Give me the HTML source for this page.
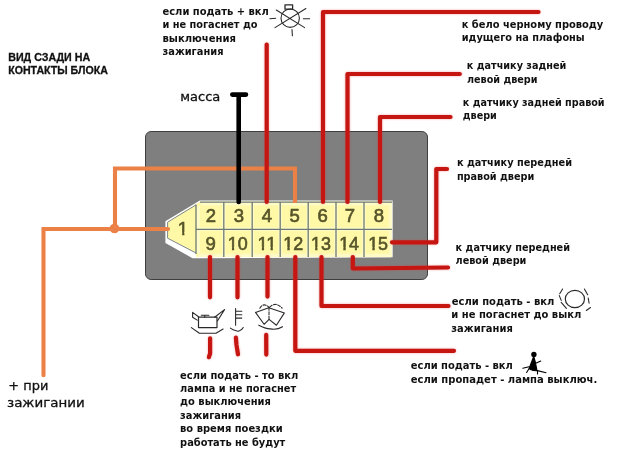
<!DOCTYPE html>
<html lang="ru">
<head>
<meta charset="utf-8">
<title>Вид сзади на контакты блока</title>
<style>
html,body{margin:0;padding:0;background:#fff;}
body{width:640px;height:454px;overflow:hidden;}
svg{display:block;}
.t{font-family:"DejaVu Sans Condensed","DejaVu Sans","Liberation Sans",sans-serif;font-weight:bold;font-size:11px;fill:#111;}
.h{font-family:"Liberation Sans","DejaVu Sans",sans-serif;font-weight:bold;font-size:11px;fill:#111;stroke:#111;stroke-width:0.3;}
.m{font-family:"DejaVu Sans","Liberation Sans",sans-serif;font-weight:normal;font-size:12.6px;fill:#111;stroke:#111;stroke-width:0.3;}
.n{font-family:"Liberation Sans","DejaVu Sans",sans-serif;font-size:18.5px;fill:#56542a;stroke:#56542a;stroke-width:0.65;text-anchor:middle;}
.r{stroke:#c61612;stroke-width:4.2;fill:none;stroke-linecap:round;stroke-linejoin:round;}
.o{stroke:#ec8147;stroke-width:4.1;fill:none;stroke-linecap:butt;stroke-linejoin:miter;}
.k{stroke:#000;stroke-width:4.6;fill:none;stroke-linecap:round;}
.i{stroke:#2a2a2a;stroke-width:1.1;fill:none;stroke-linecap:round;stroke-linejoin:round;}
</style>
</head>
<body>
<svg width="640" height="454" viewBox="0 0 640 454">
<rect width="640" height="454" fill="#fff"/>

<!-- connector body -->
<rect x="145.5" y="131.5" width="282" height="148" rx="5.6" ry="5.6" fill="#7f7f7f" stroke="#3e3e3e" stroke-width="1"/>

<!-- pin block -->
<path d="M165.4 221.3 L199.8 200.5 L392.6 200.5 L392.6 257.3 L204 258.2 L192.5 258.2 L165.4 242.9 Z" fill="#ffffff"/>
<path id="cells" d="M167 222.2 L200.3 201.6 L391.9 201.6 L391.9 256.9 L196 256.9 L196 253 L167 238.3 Z" fill="#fff8a6"/>
<path d="M223.8 203 V256 M252.2 203 V256 M280.2 203 V256 M308.2 203 V256 M336 203 V256 M364 203 V256 M197 229.3 H391 M198.2 206 V253 M201 203.6 H391 M390.6 203 V256 M198 255.6 H391" stroke="#fffef0" stroke-opacity="0.45" stroke-width="3.6" fill="none"/>
<g stroke="#6d7a74" stroke-width="1.3" fill="none">
<path d="M196 204.5 V254 M223.8 202 V257 M252.2 202 V257 M280.2 202 V257 M308.2 202 V257 M336 202 V257 M364 202 V257"/>
<path d="M196 229.3 H392 M200 202.1 H392"/>
<path d="M196 204.9 L167.6 222.2 L167.6 238.2 L196 253" stroke-width="1" stroke="#7b8790"/>
</g>
<g class="n" style="filter:saturate(1)">
<text x="183" y="235">1</text>
<text x="211" y="221.8">2</text>
<text x="238.8" y="221.8">3</text>
<text x="266.8" y="221.8">4</text>
<text x="294.6" y="221.8">5</text>
<text x="322.6" y="221.8">6</text>
<text x="350" y="221.8">7</text>
<text x="379" y="221.8">8</text>
<text x="210.6" y="250">9</text>
<text x="237.8" y="250" textLength="19.9" lengthAdjust="spacingAndGlyphs">10</text>
<text x="267" y="250" textLength="19.2" lengthAdjust="spacingAndGlyphs">11</text>
<text x="293.3" y="250" textLength="19.9" lengthAdjust="spacingAndGlyphs">12</text>
<text x="321.0" y="250" textLength="19.9" lengthAdjust="spacingAndGlyphs">13</text>
<text x="349.1" y="250" textLength="19.9" lengthAdjust="spacingAndGlyphs">14</text>
<text x="378.1" y="250" textLength="19.9" lengthAdjust="spacingAndGlyphs">15</text>
</g>

<path d="M177.32 232H182.12V236.5H177.32Z M184.40 232H188.00V236.5H184.40Z M227.13 247H231.93V251.5H227.13Z M234.15 247H237.75V251.5H234.15Z M257.01 247H261.81V251.5H257.01Z M264.10 247H267.70V251.5H264.10Z M265.70 247H270.50V251.5H265.70Z M272.85 247H276.45V251.5H272.85Z M282.51 247H287.31V251.5H282.51Z M289.76 247H293.36V251.5H289.76Z M310.36 247H315.16V251.5H310.36Z M317.46 247H321.06V251.5H317.46Z M338.51 247H343.31V251.5H338.51Z M345.76 247H349.36V251.5H345.76Z M367.51 247H372.31V251.5H367.51Z M374.76 247H378.36V251.5H374.76Z" fill="#fff8a6" class="ft"/>
<!-- orange wires -->
<path class="o" d="M295 203 V168.5 H115 V229"/>
<path class="o" d="M168 229 H43.5 V375.3" style="stroke-linecap:round"/>
<circle cx="114.5" cy="228.5" r="4.8" fill="#ec8147"/>

<!-- black ground wire -->
<path class="k" d="M238.7 202 V96 M232.3 94.6 H246"/>

<!-- red wires -->
<g style="filter:drop-shadow(0 0 0.9px rgba(230,60,60,0.45))">
<path class="r" d="M266.7 202 V44.6"/>
<path class="r" d="M323 202 V12 H538.5" />
<path class="r" d="M347.5 202 V74 H459.8"/>
<path class="r" d="M380 202 V117 H450.5"/>
<path class="r" d="M392 242.3 H436.3 V169 H447"/>
<path class="r" d="M352.8 257 V268.5 L448 267.5"/>
<path class="r" d="M321.5 257 V306 H448.5"/>
<path class="r" d="M295.3 257 V350.8 H454"/>
<path class="r" d="M210 257 V297.3 M210.1 338.3 V353.5 L208.9 357.2"/>
<path class="r" d="M237.5 257 V297.3 M235.9 337.6 L236.5 345 L238 354.3"/>
<path class="r" d="M267.5 257 V296.6 M266.2 334.9 L266.3 354.6"/>
</g>

<!-- icons -->
<g class="i">
<!-- lamp top -->
<circle cx="290.2" cy="18.2" r="9.2"/>
<path d="M276.3 10 L304.6 27.6 M305.9 8.5 L275 27.6"/>
<rect x="285" y="4.8" width="7.6" height="4.4" stroke-width="1.3"/>
<path d="M269.8 18.8 L275.7 18.2 M303.3 18.8 L309.6 18.8 M292 29.5 L292.4 35.8"/>
<g transform="translate(0.2 0.6)">
<!-- oil can -->
<path d="M198.3 316.6 H216.8 V327 H198.3 Z" stroke-width="1.2"/>
<path d="M198.3 316.1 L192.4 311.8 L192.4 316.6 L197 319.5"/>
<path d="M201.1 314.7 H208.7 M204.6 314.7 V316.6"/>
<path d="M214.4 316.6 L224.3 309 L217.2 320.4"/>
<path d="M191.2 327 L199.2 332.7 L215.8 332.7 L222.9 328.4"/>
<!-- heater -->
<path d="M235.4 308 V324.6 M235.4 310.7 H241.6 M235.4 314.2 H241.6 M235.4 317.5 H241.6"/>
<path d="M230.2 327.5 Q233 329.5 235.4 329.9 Q237.5 331 238.8 330.4 Q241.5 330 243 327"/>
<!-- wiper -->
<path d="M255.3 311.8 L268.6 307.1 L284.2 312.3 L276.2 324.6 L269.2 319 M255.3 311.8 L263.9 323.7 L268.6 319"/>
<path d="M268.8 306.6 V319" stroke-dasharray="3 1.5"/>
<path d="M259.6 307.6 Q263.5 301.5 268.6 306.6 M269.5 306.6 Q275.2 300.5 281.9 307.6" stroke-dasharray="3 1.5"/>
<path d="M258.6 324.6 Q265 328 270 328.3 Q277 329.5 282.3 326.1"/>
</g>
<!-- lamp right -->
<ellipse cx="574.9" cy="299" rx="9.6" ry="8.7" stroke-width="1.2"/>
<path d="M562.6 289 L559.7 293.7 M559.3 295.6 L561.2 300.4 M561.2 302.3 L566.4 308.4 M584.4 289 L587.7 294.7 M588.2 298 L589.1 303.2 M590.5 307.5 L586.3 310.5"/>
<!-- person -->
<circle cx="533.9" cy="354.5" r="2.7" fill="#000" stroke="none"/>
<path d="M533.7 356.5 L529 368.7 L533 370.5 L537 370.6 L535.3 362 Z" fill="#000" stroke="#000"/>
<path d="M535.1 363.5 L540.8 361.1 M522.8 368.2 L529 366.8 M526.6 372.5 L528.8 369 M536.5 370.4 L546 372.7 M537.5 370.5 L537.5 374" stroke="#000"/>
</g>

<!-- texts -->
<g style="filter:grayscale(1)">
<text class="h" x="8.2" y="61.1" textLength="82" lengthAdjust="spacingAndGlyphs">ВИД СЗАДИ НА</text>
<text class="h" x="8.2" y="74.2" textLength="99.6" lengthAdjust="spacingAndGlyphs">КОНТАКТЫ БЛОКА</text>
<text class="t" x="162.5" y="14.7" textLength="106.3" lengthAdjust="spacingAndGlyphs">если подать + вкл</text>
<text class="t" x="162.5" y="28.1" textLength="95" lengthAdjust="spacingAndGlyphs">и не погаснет до</text>
<text class="t" x="162.5" y="41.5" textLength="73.5" lengthAdjust="spacingAndGlyphs">выключения</text>
<text class="t" x="162.5" y="55" textLength="61" lengthAdjust="spacingAndGlyphs">зажигания</text>
<text class="m" x="180.3" y="101.1" textLength="40" lengthAdjust="spacingAndGlyphs">масса</text>
<text class="t" x="461.7" y="27.9" textLength="141.6" lengthAdjust="spacingAndGlyphs">к бело черному проводу</text>
<text class="t" x="461.7" y="41.4" textLength="123" lengthAdjust="spacingAndGlyphs">идущего на плафоны</text>
<text class="t" x="466.8" y="69" textLength="99.5" lengthAdjust="spacingAndGlyphs">к датчику задней</text>
<text class="t" x="467" y="82.7" textLength="70.5" lengthAdjust="spacingAndGlyphs">левой двери</text>
<text class="t" x="462.8" y="105.5" textLength="141.8" lengthAdjust="spacingAndGlyphs">к датчику задней правой</text>
<text class="t" x="462.8" y="119.1" textLength="34" lengthAdjust="spacingAndGlyphs">двери</text>
<text class="t" x="456.9" y="166.2" textLength="115.1" lengthAdjust="spacingAndGlyphs">к датчику передней</text>
<text class="t" x="456.9" y="180.2" textLength="77.3" lengthAdjust="spacingAndGlyphs">правой двери</text>
<text class="t" x="455.6" y="251.2" textLength="114.4" lengthAdjust="spacingAndGlyphs">к датчику передней</text>
<text class="t" x="455.6" y="264.2" textLength="70.8" lengthAdjust="spacingAndGlyphs">левой двери</text>
<text class="t" x="451.8" y="304.9" textLength="102.5" lengthAdjust="spacingAndGlyphs">если подать - вкл</text>
<text class="t" x="451.3" y="317.8" textLength="130" lengthAdjust="spacingAndGlyphs">и не погаснет до выкл</text>
<text class="t" x="451.3" y="331.6" textLength="61.5" lengthAdjust="spacingAndGlyphs">зажигания</text>
<text class="t" x="410.8" y="369.4" textLength="102" lengthAdjust="spacingAndGlyphs">если подать - вкл</text>
<text class="t" x="410.8" y="383.1" textLength="186.4" lengthAdjust="spacingAndGlyphs">если пропадет - лампа выключ.</text>
<text class="t" x="180.1" y="378.5" textLength="118.3" lengthAdjust="spacingAndGlyphs">если подать - то вкл</text>
<text class="t" x="180.1" y="392" textLength="116" lengthAdjust="spacingAndGlyphs">лампа и не погаснет</text>
<text class="t" x="180.1" y="405.4" textLength="90.8" lengthAdjust="spacingAndGlyphs">до выключения</text>
<text class="t" x="180.1" y="418.9" textLength="61" lengthAdjust="spacingAndGlyphs">зажигания</text>
<text class="t" x="180.1" y="432.4" textLength="102.5" lengthAdjust="spacingAndGlyphs">во время поездки</text>
<text class="t" x="180.1" y="445.9" textLength="105.2" lengthAdjust="spacingAndGlyphs">работать не будут</text>
<text class="m" x="8.3" y="390" textLength="40" lengthAdjust="spacingAndGlyphs">+ при</text>
<text class="m" x="7" y="406.7" textLength="77.6" lengthAdjust="spacingAndGlyphs">зажигании</text>
</g>
</svg>
</body>
</html>
